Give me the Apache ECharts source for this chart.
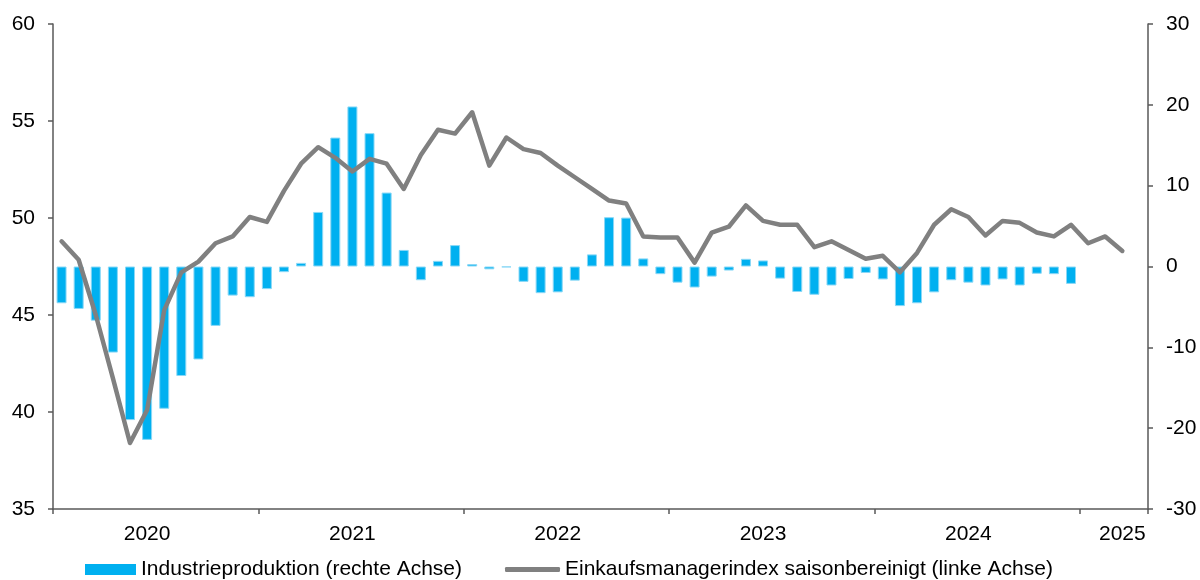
<!DOCTYPE html>
<html>
<head>
<meta charset="utf-8">
<script src="https://cdn.jsdelivr.net/npm/echarts@6/dist/echarts.min.js"></script>
<style>
  html, body { margin: 0; padding: 0; background: #fff; }
  #chart { width: 1200px; height: 580px; }
</style>
</head>
<body>
<div id="chart"></div>
<script>
// Monate Jan 2020 - Apr 2025
var months = [
  '2020-01','2020-02','2020-03','2020-04','2020-05','2020-06','2020-07','2020-08','2020-09','2020-10','2020-11','2020-12',
  '2021-01','2021-02','2021-03','2021-04','2021-05','2021-06','2021-07','2021-08','2021-09','2021-10','2021-11','2021-12',
  '2022-01','2022-02','2022-03','2022-04','2022-05','2022-06','2022-07','2022-08','2022-09','2022-10','2022-11','2022-12',
  '2023-01','2023-02','2023-03','2023-04','2023-05','2023-06','2023-07','2023-08','2023-09','2023-10','2023-11','2023-12',
  '2024-01','2024-02','2024-03','2024-04','2024-05','2024-06','2024-07','2024-08','2024-09','2024-10','2024-11','2024-12',
  '2025-01','2025-02','2025-03','2025-04'
];

// Industrieproduktion, % ggü. Vorjahr (rechte Achse)
var industrie = [
  -4.55, -5.25, -6.7, -10.65, -19.0, -21.45, -17.6, -13.55, -11.5, -7.35, -3.6, -3.8,
  -2.8, -0.7, 0.45, 6.75, 15.95, 19.8, 16.5, 9.15, 2.05, -1.7, 0.7, 2.65,
  0.3, -0.35, -0.1, -1.9, -3.3, -3.2, -1.75, 1.5, 6.1, 6.05, 1.0, -0.95,
  -2.0, -2.6, -1.25, -0.5, 0.95, 0.75, -1.5, -3.15, -3.5, -2.35, -1.55, -0.8,
  -1.6, -4.9, -4.55, -3.2, -1.7, -2.0, -2.35, -1.6, -2.35, -0.9, -0.95, -2.15,
  null, null, null, null
];

// Einkaufsmanagerindex saisonbereinigt (linke Achse)
var pmi = [
  48.8, 47.85, 45.0, 41.75, 38.4, 40.1, 45.25, 47.2, 47.75, 48.7, 49.05, 50.05,
  49.8, 51.4, 52.8, 53.65, 53.1, 52.4, 53.05, 52.8, 51.5, 53.25, 54.55, 54.35,
  55.45, 52.7, 54.15, 53.55, 53.35, 52.7, 52.1, 51.5, 50.9, 50.75, 49.05, 49.0,
  49.0, 47.7, 49.25, 49.55, 50.65, 49.85, 49.65, 49.65, 48.5, 48.8, 48.35, 47.9,
  48.05, 47.2, 48.2, 49.65, 50.45, 50.05, 49.1, 49.85, 49.75, 49.25, 49.05, 49.65,
  48.7, 49.05, 48.3, null
];

// Positionen der Jahresbeschriftung (Monatsindex)
var yearLabelIdx = [5, 17, 29, 41, 53, 62];

var nameBar = 'Industrieproduktion (rechte Achse)';
var nameLine = 'Einkaufsmanagerindex saisonbereinigt (linke Achse)';

var font = '"Liberation Sans", Arial, sans-serif';
var axisColor = '#595959';
var fs = 21;

var chart = echarts.init(document.getElementById('chart'), null, { renderer: 'canvas' });

var option = {
  animation: false,
  textStyle: { fontFamily: font },
  grid: { left: 53, right: 52, top: 24, bottom: 71, containLabel: false },
  legend: [{
    data: [{ name: nameBar, icon: 'rect', itemStyle: { color: '#00B0F0', borderWidth: 0 } }],
    left: 80,
    top: 554,
    itemWidth: 51,
    itemHeight: 11,
    textStyle: { fontSize: fs, color: '#000', fontFamily: font }
  }, {
    data: [{ name: nameLine, icon: 'roundRect', itemStyle: { color: '#808080' } }],
    left: 500,
    top: 554,
    itemWidth: 55,
    itemHeight: 5,
    textStyle: { fontSize: fs, color: '#000', fontFamily: font }
  }],
  xAxis: {
    type: 'category',
    data: months,
    boundaryGap: true,
    axisLine: { onZero: false, lineStyle: { color: axisColor, width: 1.5 } },
    axisTick: {
      show: true,
      length: 5,
      interval: function (i) { return i % 12 === 0; },
      lineStyle: { color: axisColor, width: 1.5 }
    },
    axisLabel: {
      interval: function (i) { return yearLabelIdx.indexOf(i) >= 0; },
      formatter: function (v) { return v.slice(0, 4); },
      fontSize: fs,
      color: '#000',
      margin: 15,
      fontFamily: font
    },
    splitLine: { show: false }
  },
  yAxis: [{
    type: 'value',
    min: 35,
    max: 60,
    interval: 5,
    position: 'left',
    axisLine: { show: true, lineStyle: { color: axisColor, width: 1.5 } },
    axisTick: { show: true, length: 5, lineStyle: { color: axisColor, width: 1.5 } },
    axisLabel: { fontSize: fs, color: '#000', margin: 18, fontFamily: font },
    splitLine: { show: false }
  }, {
    type: 'value',
    min: -30,
    max: 30,
    interval: 10,
    position: 'right',
    axisLine: { show: true, lineStyle: { color: axisColor, width: 1.5 } },
    axisTick: { show: true, length: 5, lineStyle: { color: axisColor, width: 1.5 } },
    axisLabel: { fontSize: fs, color: '#000', margin: 18, fontFamily: font },
    splitLine: { show: false }
  }],
  series: [{
    name: nameBar,
    type: 'bar',
    yAxisIndex: 1,
    data: industrie,
    barWidth: 10,
    itemStyle: { color: '#00B0F0', borderColor: '#8ad8f6', borderWidth: 1 },
    z: 2
  }, {
    name: nameLine,
    type: 'line',
    yAxisIndex: 0,
    data: pmi,
    symbol: 'none',
    lineStyle: { color: '#808080', width: 4.5, join: 'round', cap: 'round' },
    itemStyle: { color: '#808080' },
    z: 3
  }]
};

chart.setOption(option);
</script>
</body>
</html>
